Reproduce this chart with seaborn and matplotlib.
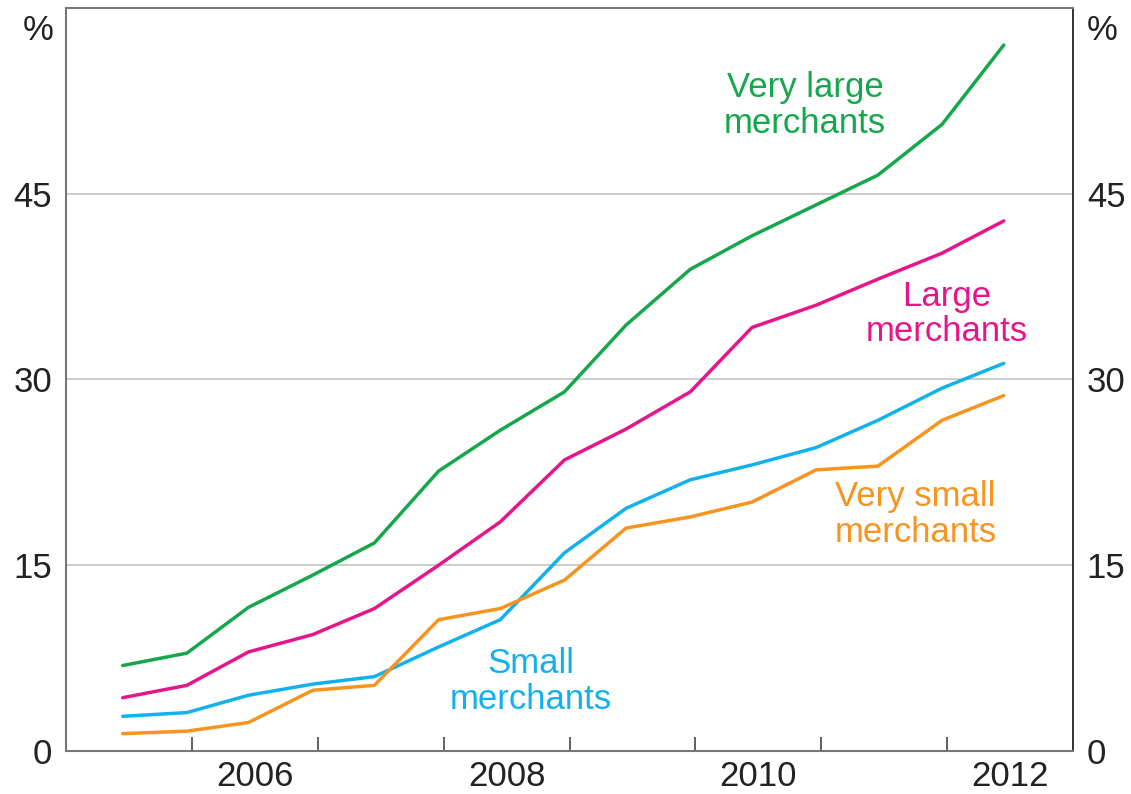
import matplotlib
matplotlib.use("Agg")
import matplotlib.pyplot as plt
import pandas as pd
import seaborn as sns

# half-yearly observations, as fractional years
years = [2005.45, 2005.96, 2006.45, 2006.96, 2007.45, 2007.96, 2008.45, 2008.96,
         2009.45, 2009.96, 2010.45, 2010.96, 2011.45, 2011.96, 2012.45]

very_large = [6.9, 7.9, 11.6, 14.2, 16.8, 22.6, 25.9, 29.0, 34.4, 38.9, 41.6, 44.1, 46.5, 50.6, 57.0]
large = [4.3, 5.3, 8.0, 9.4, 11.5, 15.0, 18.5, 23.5, 26.0, 29.0, 34.2, 36.0, 38.1, 40.2, 42.8]
small = [2.8, 3.1, 4.5, 5.4, 6.0, 8.4, 10.6, 16.0, 19.6, 21.9, 23.1, 24.5, 26.7, 29.3, 31.3]
very_small = [1.4, 1.6, 2.3, 4.9, 5.3, 10.6, 11.5, 13.8, 18.0, 18.9, 20.1, 22.7, 23.0, 26.7, 28.7]

series_names = ["Very large\nmerchants", "Large\nmerchants", "Small\nmerchants", "Very small\nmerchants"]
colors = ["#16a64b", "#e6168a", "#12b1ee", "#f6941e"]
label_x = [2010.87, 2012.0, 2008.69, 2011.75]
label_y = [52.1, 35.3, 5.6, 19.1]

y_ticks = [0, 15, 30, 45]
x_label_years = [2006, 2008, 2010, 2012]


def main() -> None:
    df = pd.DataFrame({
        "year": years * 4,
        "value": very_large + large + small + very_small,
        "series": sum([[n] * len(years) for n in series_names], []),
    })

    sns.set_style("white")
    plt.rcParams["font.family"] = ["Liberation Sans", "DejaVu Sans"]

    fig = plt.figure(figsize=(11.31, 7.94), dpi=100)
    ax = fig.add_axes([0.0584, 0.0542, 0.8903, 0.9358])

    for yv in y_ticks[1:] + [60]:
        ax.axhline(yv, color="#c8c8c8", lw=1.3, zorder=0)

    sns.lineplot(data=df, x="year", y="value", hue="series", hue_order=series_names,
                 palette=dict(zip(series_names, colors)), linewidth=2.5,
                 legend=False, ax=ax)

    ax.set_xlim(2005, 2013)
    ax.set_ylim(0, 60)
    ax.set_xlabel("")
    ax.set_ylabel("")

    # tick marks at year boundaries, labels in the middle of even years
    ax.set_xticks(range(2006, 2013))
    ax.set_xticklabels([])
    ax.tick_params(axis="x", direction="in", length=10, width=1.3, color="#555555", bottom=True)
    for yr in x_label_years:
        ax.text(yr + 0.5, -0.012, str(yr), transform=ax.get_xaxis_transform(),
                ha="center", va="top", fontsize=25, color="#222222")

    ax.set_yticks(y_ticks)
    ax.tick_params(axis="y", length=0, labelsize=25, labelcolor="#222222",
                   left=False, right=False, labelleft=True, labelright=True, pad=10)

    ax.text(-0.028, 58.2, "%", transform=ax.get_yaxis_transform(), ha="center",
            va="center", fontsize=25, color="#222222")
    ax.text(1.029, 58.2, "%", transform=ax.get_yaxis_transform(), ha="center",
            va="center", fontsize=25, color="#222222")

    for name, c, lx, ly in zip(series_names, colors, label_x, label_y):
        ax.text(lx, ly, name, color=c, fontsize=25, ha="center", va="center",
                linespacing=1.1)

    for side in ["left", "bottom", "top"]:
        ax.spines[side].set_color("#777777")
        ax.spines[side].set_linewidth(1.5)
    ax.spines["right"].set_color("#222222")
    ax.spines["right"].set_linewidth(1.3)

    fig.savefig("out.png", dpi=100)
    plt.close(fig)


if __name__ == "__main__":
    main()
